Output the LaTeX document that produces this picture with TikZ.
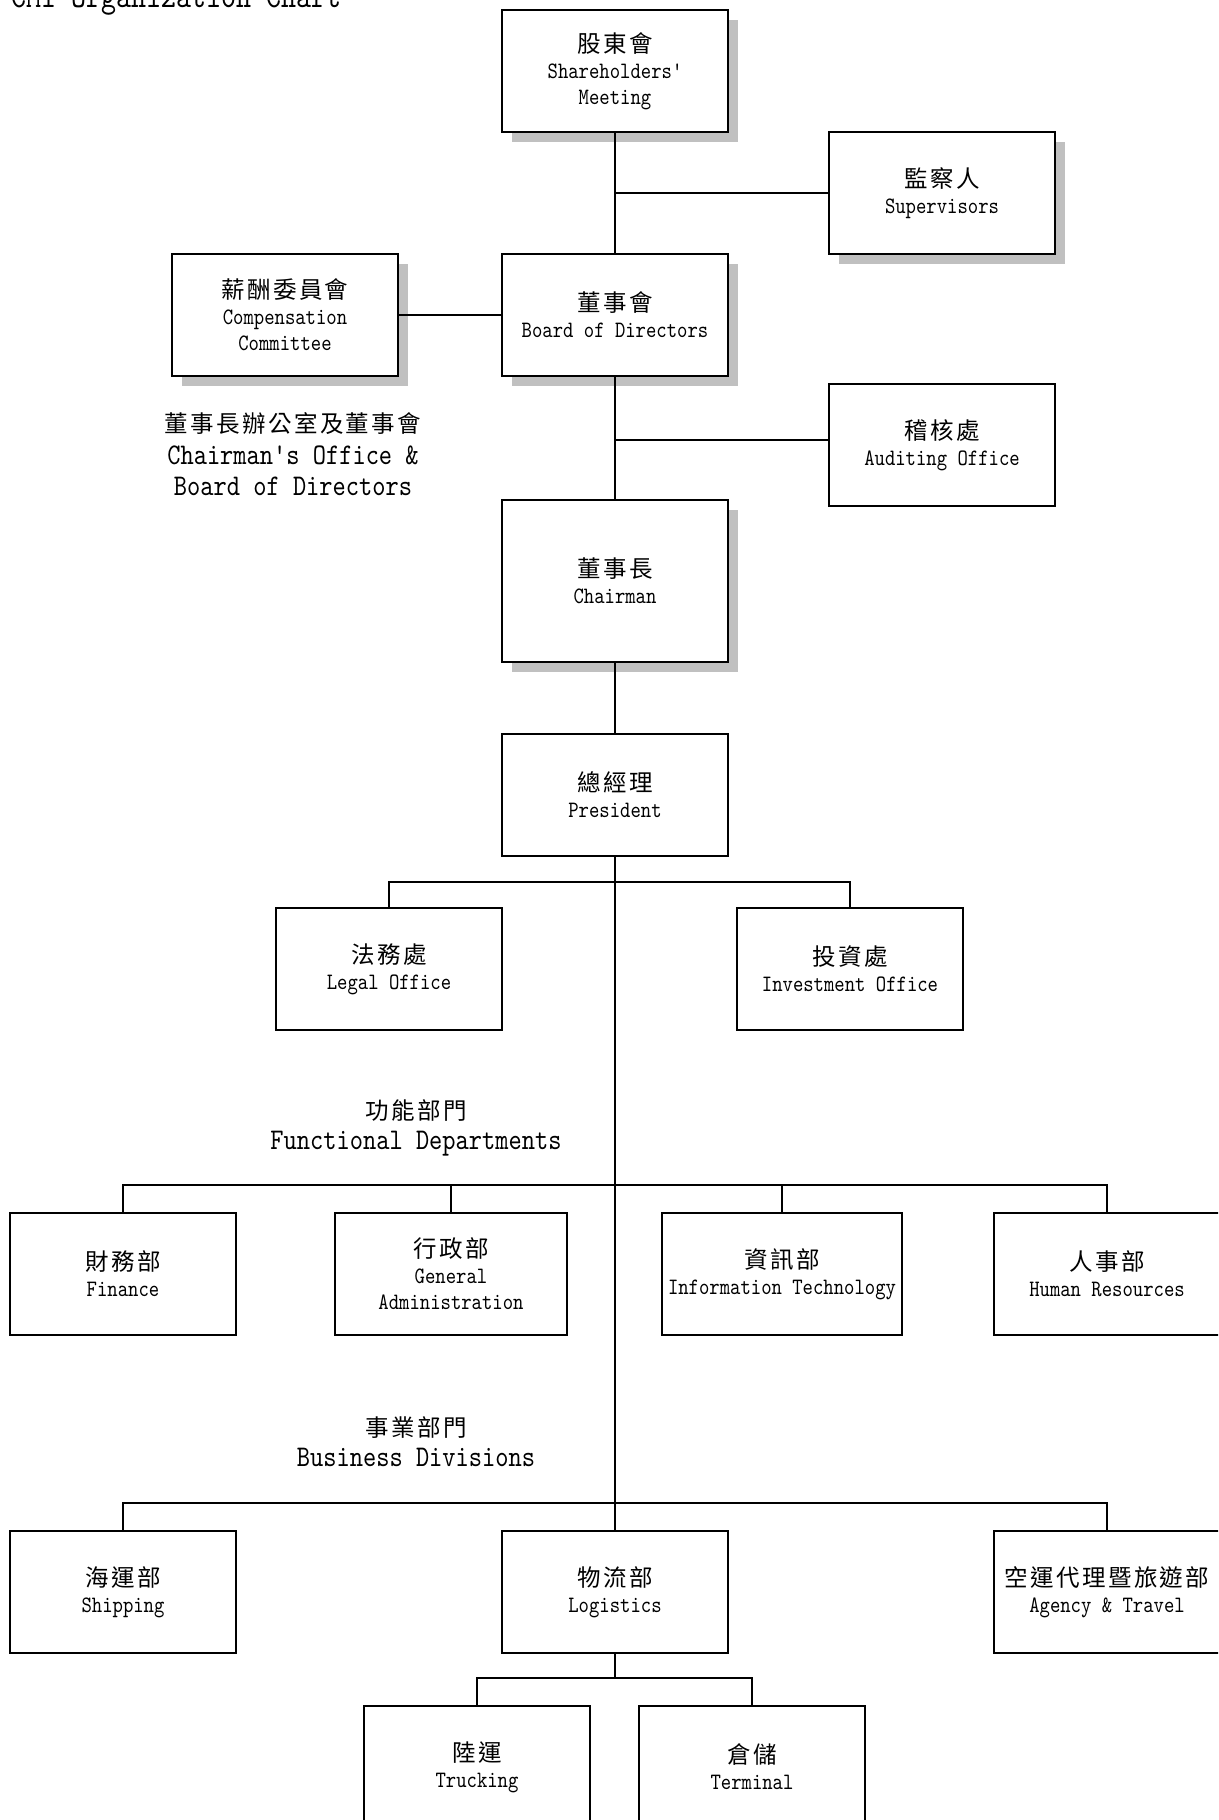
\documentclass[tikz,border=0pt]{standalone}
\usepackage{fontspec}
\usetikzlibrary{shadows}
\newfontfamily\cjkf[LetterSpace=10]{Noto Sans CJK TC}
\newfontfamily\enf[FakeStretch=0.84]{lmmono10-regular.otf}
\definecolor{shadowgray}{RGB}{192,192,192}
\begin{document}
\begin{tikzpicture}[x=1pt,y=-1pt,
  orgbox/.style={draw, line width=2pt, fill=white, minimum width=226pt, minimum height=122pt,
    inner sep=0pt, align=center, font=\fontsize{23.5}{26}\enf},
  shad/.style={general shadow={fill=shadowgray, shadow xshift=10pt, shadow yshift=-10pt}},
  conn/.style={line width=2pt},
  lblcjk/.style={anchor=base, inner sep=0pt, font=\fontsize{23.5}{26}\cjkf},
  lblen/.style={anchor=base, inner sep=0pt, font=\fontsize{30}{32}\enf},
]
\useasboundingbox (0,0) rectangle (1218,1820);
\clip (0,0) rectangle (1218,1820);

% title
\node[anchor=base west, inner sep=0pt, font=\fontsize{34}{40}\enf] (title) at (11,7.3) {CMI Organization Chart};

% boxes
\node[orgbox,shad] (sh) at (615,71) {{\cjkf 股東會}\\Shareholders'\\Meeting};
\node[orgbox,shad] (sup) at (942,193) {{\cjkf 監察人}\\Supervisors};
\node[orgbox,shad] (comp) at (285,315) {{\cjkf 薪酬委員會}\\Compensation\\Committee};
\node[orgbox,shad] (board) at (615,315) {{\cjkf 董事會}\\Board of Directors};
\node[orgbox] (aud) at (942,445) {{\cjkf 稽核處}\\Auditing Office};
\node[orgbox,shad,minimum height=162pt] (chair) at (615,581) {{\cjkf 董事長}\\Chairman};
\node[orgbox] (pres) at (615,795) {{\cjkf 總經理}\\President};
\node[orgbox] (legal) at (389,969) {{\cjkf 法務處}\\Legal Office};
\node[orgbox] (inv) at (850,969) {{\cjkf 投資處}\\Investment Office};
\node[orgbox] (fin) at (123,1274) {{\cjkf 財務部}\\Finance};
\node[orgbox,minimum width=232pt] (ga) at (451,1274) {{\cjkf 行政部}\\General\\Administration};
\node[orgbox,minimum width=240pt] (it) at (782,1274) {{\cjkf 資訊部}\\Information Technology};
\node[orgbox] (hr) at (1107,1274) {{\cjkf 人事部}\\Human Resources};
\node[orgbox] (ship) at (123,1592) {{\cjkf 海運部}\\Shipping};
\node[orgbox] (log) at (615,1592) {{\cjkf 物流部}\\Logistics};
\node[orgbox] (agency) at (1107,1592) {{\cjkf 空運代理暨旅遊部}\\Agency \& Travel};
\node[orgbox] (truck) at (477,1767) {{\cjkf 陸運}\\Trucking};
\node[orgbox] (term) at (752,1767) {{\cjkf 倉儲}\\Terminal};

% section labels
\node[lblcjk] (l1a) at (293,432.5) {董事長辦公室及董事會};
\node[lblen] (l1b) at (293,464.3) {Chairman's Office \&};
\node[lblen] (l1c) at (293,495.7) {Board of Directors};
\node[lblcjk] (l2a) at (416,1119) {功能部門};
\node[lblen] (l2b) at (416,1149.3) {Functional Departments};
\node[lblcjk] (l3a) at (416,1436) {事業部門};
\node[lblen] (l3b) at (416,1466.3) {Business Divisions};

% connectors
\draw[conn] (sh.south) -- (board.north);
\draw[conn] (sup.west) -- (sup.west -| sh.south);
\draw[conn] (comp.east) -- (board.west);
\draw[conn] (board.south) -- (chair.north);
\coordinate (j2) at (615,440);
\draw[conn] (j2) -- (j2 -| aud.west);
\draw[conn] (chair.south) -- (pres.north);
\draw[conn] (pres.south) -- (log.north);
\coordinate (b1) at (615,882);
\draw[conn] (legal.north) |- (b1) -| (inv.north);
\coordinate (b2) at (615,1185);
\draw[conn] (fin.north) |- (b2) -| (hr.north);
\draw[conn] (ga.north) -- (ga.north |- b2);
\draw[conn] (it.north) -- (it.north |- b2);
\coordinate (b3) at (615,1503);
\draw[conn] (ship.north) |- (b3) -| (agency.north);
\coordinate (b4) at (615,1678);
\draw[conn] (log.south) -- (b4);
\draw[conn] (truck.north) |- (b4) -| (term.north);
\end{tikzpicture}
\end{document}
